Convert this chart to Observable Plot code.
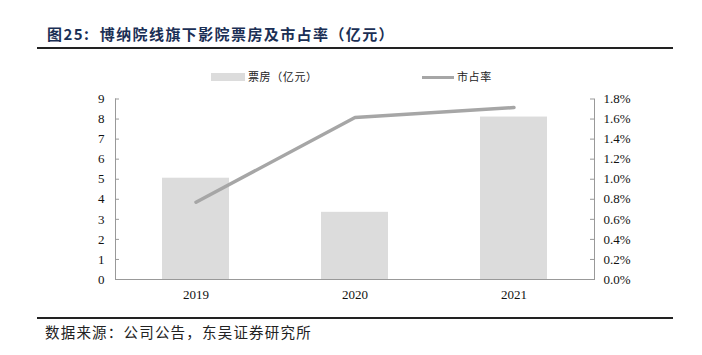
<!DOCTYPE html>
<html>
<head>
<meta charset="utf-8">
<script src="https://cdn.jsdelivr.net/npm/d3@7"></script>
<script src="https://cdn.jsdelivr.net/npm/@observablehq/plot@0.6"></script>
<style>
  body { margin: 0; background: #fff; }
  #wrap { position: relative; width: 702px; height: 355px; overflow: hidden; font-family: "Noto Sans CJK SC", sans-serif; }
  .abs { position: absolute; }
  #title { left: 47px; top: 23px; font-size: 15px; font-weight: bold; color: #1b2f55; letter-spacing: 1.4px; white-space: nowrap; }
  #topline { left: 37px; top: 47px; width: 636px; height: 2px; background: #222; }
  #botline { left: 37px; top: 317px; width: 636px; height: 2px; background: #222; }
  #source { left: 45px; top: 321px; font-size: 14.5px; color: #222; letter-spacing: 1.2px; white-space: nowrap; }
  .lg { font-size: 11px; color: #222; white-space: nowrap; letter-spacing: 0.6px; line-height: 1; }
  #chart { left: 0; top: 60px; }
</style>
</head>
<body>
<div id="wrap">
  <div id="title" class="abs">图25:&nbsp; 博纳院线旗下影院票房及市占率（亿元）</div>
  <div id="topline" class="abs"></div>
  <div class="abs" style="left:211px;top:73px;width:34px;height:8px;background:#dcdcdc;"></div>
  <div class="abs lg" style="left:248px;top:71px;">票房（亿元）</div>
  <div class="abs" style="left:422px;top:75.5px;width:32px;height:3px;background:#a6a6a6;"></div>
  <div class="abs lg" style="left:457px;top:71px;">市占率</div>
  <div id="chart" class="abs"></div>
  <div id="botline" class="abs"></div>
  <div id="source" class="abs">数据来源：公司公告，东吴证券研究所</div>
</div>
<script>
const years = ["2019", "2020", "2021"];
const boxOffice = [5.05, 3.35, 8.1];          // 亿元
const marketShare = [0.77, 1.615, 1.715];     // %
const leftTicks = [0, 1, 2, 3, 4, 5, 6, 7, 8, 9];
const rightTickLabels = ["0.0%", "0.2%", "0.4%", "0.6%", "0.8%", "1.0%", "1.2%", "1.4%", "1.6%", "1.8%"];

const data = years.map((y, i) => ({year: y, box: boxOffice[i], share: marketShare[i]}));
const shareScale = 9 / 1.8;

const W = 702, H = 250, mL = 115, mR = 108, mT = 38.5, mB = 31;
const pw = W - mL - mR;
const axisColor = "#999";

const chart = Plot.plot({
  width: W, height: H,
  marginTop: mT, marginBottom: mB, marginLeft: mL, marginRight: mR,
  style: {fontFamily: "'Liberation Serif', 'Times New Roman', serif", fontSize: "13px", color: "#111", background: "transparent"},
  x: {domain: years, paddingInner: 0.58, paddingOuter: 0.29, label: null},
  y: {domain: [0, 9], label: null},
  marks: [
    Plot.barY(data, {x: "year", y: "box", fill: "#dcdcdc"}),
    Plot.ruleY([0], {stroke: axisColor, strokeWidth: 1.2}),
    Plot.line(data, {x: "year", y: d => d.share * shareScale, stroke: "#a6a6a6", strokeWidth: 3.5}),
    Plot.frame({anchor: "left", stroke: axisColor}),
    Plot.frame({anchor: "right", stroke: axisColor}),
    Plot.ruleY(leftTicks, {insetRight: pw - 4, stroke: axisColor}),
    Plot.ruleY(leftTicks, {insetLeft: pw - 4, stroke: axisColor}),
    Plot.axisX({tickSize: 0, tickPadding: 10, label: null}),
    Plot.axisY({anchor: "left", ticks: leftTicks, tickSize: 0, tickPadding: 11, label: null}),
    Plot.axisY({anchor: "right", ticks: leftTicks, tickSize: 0, tickPadding: 9, label: null,
                tickFormat: d => rightTickLabels[leftTicks.indexOf(d)]})
  ]
});
document.getElementById("chart").appendChild(chart);
</script>
</body>
</html>
